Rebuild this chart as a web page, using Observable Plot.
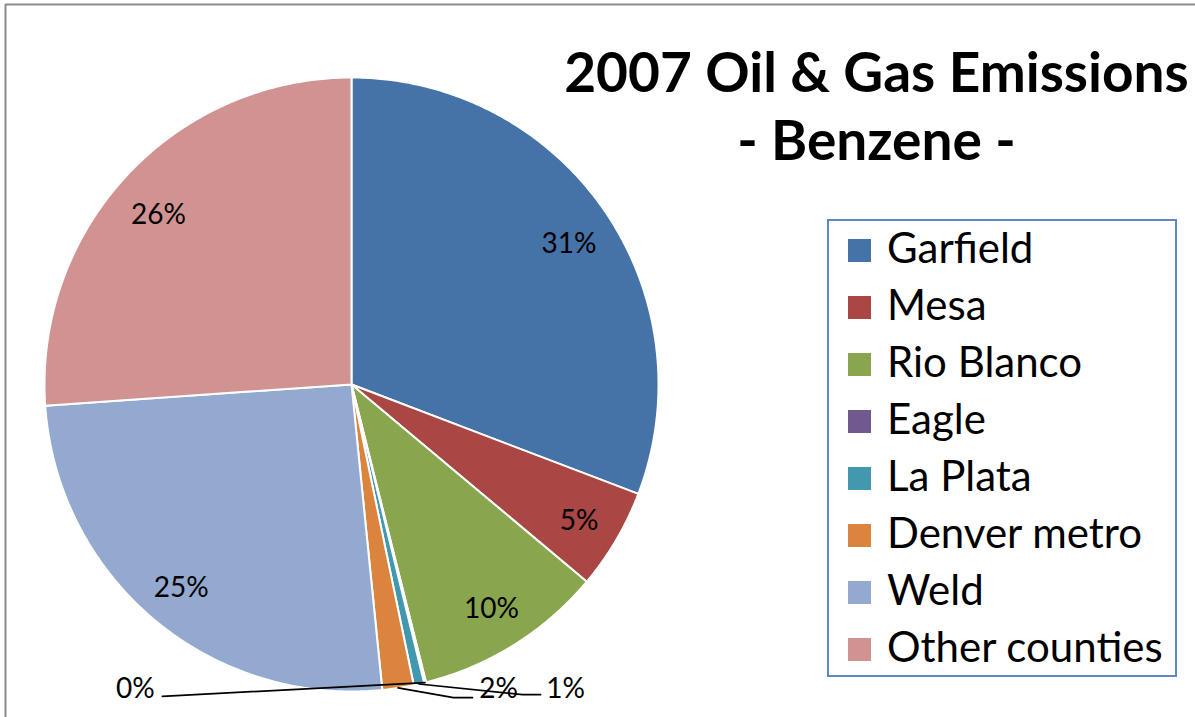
<!DOCTYPE html>
<html>
<head>
<meta charset="utf-8">
<script src="https://cdn.jsdelivr.net/npm/d3@7"></script>
<script src="https://cdn.jsdelivr.net/npm/@observablehq/plot@0.6"></script>
<style>
html, body { margin: 0; padding: 0; background: #fff; }
#chart svg { display: block; }
</style>
</head>
<body>
<div id="chart"></div>
<script>
// ---- data ----
const categories = ["Garfield", "Mesa", "Rio Blanco", "Eagle", "La Plata", "Denver metro", "Weld", "Other counties"];
const shares = [30.8, 5.3, 10.0, 0.1, 0.55, 1.65, 25.5, 26.1];
const pctLabels = ["31%", "5%", "10%", "0%", "1%", "2%", "25%", "26%"];
const colors = ["#4572A7", "#AA4643", "#89A54E", "#71588F", "#4198AF", "#DB843D", "#93A9CF", "#D19392"];
const titleLines = ["2007 Oil & Gas Emissions", "- Benzene -"];

// ---- layout (in pie-radius units) for the small, outside labels ----
const outside = {
  "Eagle":        {lx: -0.704, ly: -0.993, ex: -0.616, ey: -1.016, fx: -0.616, fy: -1.016},
  "La Plata":     {lx: 0.697,  ly: -0.993, ex: 0.557,  ey: -1.010, fx: 0.616,  fy: -1.010},
  "Denver metro": {lx: 0.479,  ly: -0.993, ex: 0.332,  ey: -1.020, fx: 0.394,  fy: -1.020}
};

const FONT = "Lato, 'Open Sans', sans-serif";
const W = 1195, H = 717;
const cx = 351, cy = 384, R = 307;

const total = d3.sum(shares);
let cum = 0;
const slices = categories.map((name, i) => {
  const a0 = cum / total * 2 * Math.PI;
  cum += shares[i];
  const a1 = cum / total * 2 * Math.PI;
  return {name, a0, a1, mid: (a0 + a1) / 2, label: pctLabels[i]};
});

const polyPts = slices.flatMap(s => {
  const pts = [{name: s.name, x: 0, y: 0}];
  const n = Math.max(2, Math.ceil((s.a1 - s.a0) / (Math.PI / 360)));
  for (let k = 0; k <= n; k++) {
    const a = s.a0 + (s.a1 - s.a0) * k / n;
    pts.push({name: s.name, x: Math.sin(a), y: Math.cos(a)});
  }
  return pts;
});

const insideLabels = slices.filter(s => !outside[s.name]).map(s => ({
  text: s.label, x: 0.86 * Math.sin(s.mid), y: 0.84 * Math.cos(s.mid)
}));
const outsideLabels = slices.filter(s => outside[s.name]).map(s => ({
  text: s.label, x: outside[s.name].lx, y: outside[s.name].ly
}));
const leaders = slices.filter(s => outside[s.name]).flatMap(s => {
  const o = outside[s.name];
  return [
    {name: s.name, x: Math.sin(s.mid), y: Math.cos(s.mid)},
    {name: s.name, x: o.ex, y: o.ey},
    {name: s.name, x: o.fx, y: o.fy}
  ];
});

const chart = Plot.plot({
  width: W, height: H,
  margin: 0,
  x: {domain: [-1, 1], range: [cx - R, cx + R], axis: null},
  y: {domain: [-1, 1], range: [cy + R, cy - R], axis: null},
  color: {domain: categories, range: colors},
  style: {fontFamily: FONT, background: "white", overflow: "visible"},
  marks: [
    Plot.line(polyPts, {x: "x", y: "y", z: "name", fill: "name", stroke: "white", strokeWidth: 2, curve: "linear-closed"}),
    Plot.text(insideLabels, {x: "x", y: "y", text: "text", fontSize: 28, fill: "#000", dy: 6}),
    Plot.line(leaders, {x: "x", y: "y", z: "name", stroke: "black", strokeWidth: 1.7}),
    Plot.text(outsideLabels, {x: "x", y: "y", text: "text", fontSize: 28, fill: "#000"}),
    Plot.text([titleLines[0]], {frameAnchor: "top-left", dx: 876, dy: 91, text: d => d, fontSize: 55, fontWeight: "bold", lineAnchor: "bottom", textAnchor: "middle", fill: "black"}),
    Plot.text([titleLines[1]], {frameAnchor: "top-left", dx: 876, dy: 159, text: d => d, fontSize: 55, fontWeight: "bold", lineAnchor: "bottom", textAnchor: "middle", fill: "black"})
  ]
});

// legend built from the plot's color scale
const color = chart.scale("color");
const svg = d3.select(chart);
const lg = svg.append("g").attr("text-anchor", "start");
lg.append("rect").attr("x", 828).attr("y", 220).attr("width", 348).attr("height", 456)
  .attr("fill", "white").attr("stroke", "#5b88c6").attr("stroke-width", 2);
color.domain.forEach((name, i) => {
  lg.append("rect").attr("x", 848).attr("y", 239 + 57 * i).attr("width", 23).attr("height", 23)
    .attr("fill", color.range[i]);
  lg.append("text").attr("x", 887).attr("y", 263 + 57 * i).attr("text-anchor", "start")
    .attr("font-family", FONT).attr("font-size", 42).attr("fill", "black").text(name);
});
// outer frame border
svg.append("line").attr("x1", 5).attr("x2", W).attr("y1", 4.5).attr("y2", 4.5).attr("stroke", "#8c8c8c").attr("stroke-width", 2);
svg.append("line").attr("x1", 5.5).attr("x2", 5.5).attr("y1", 4).attr("y2", H).attr("stroke", "#8c8c8c").attr("stroke-width", 2);

document.getElementById("chart").appendChild(chart);
</script>
</body>
</html>
